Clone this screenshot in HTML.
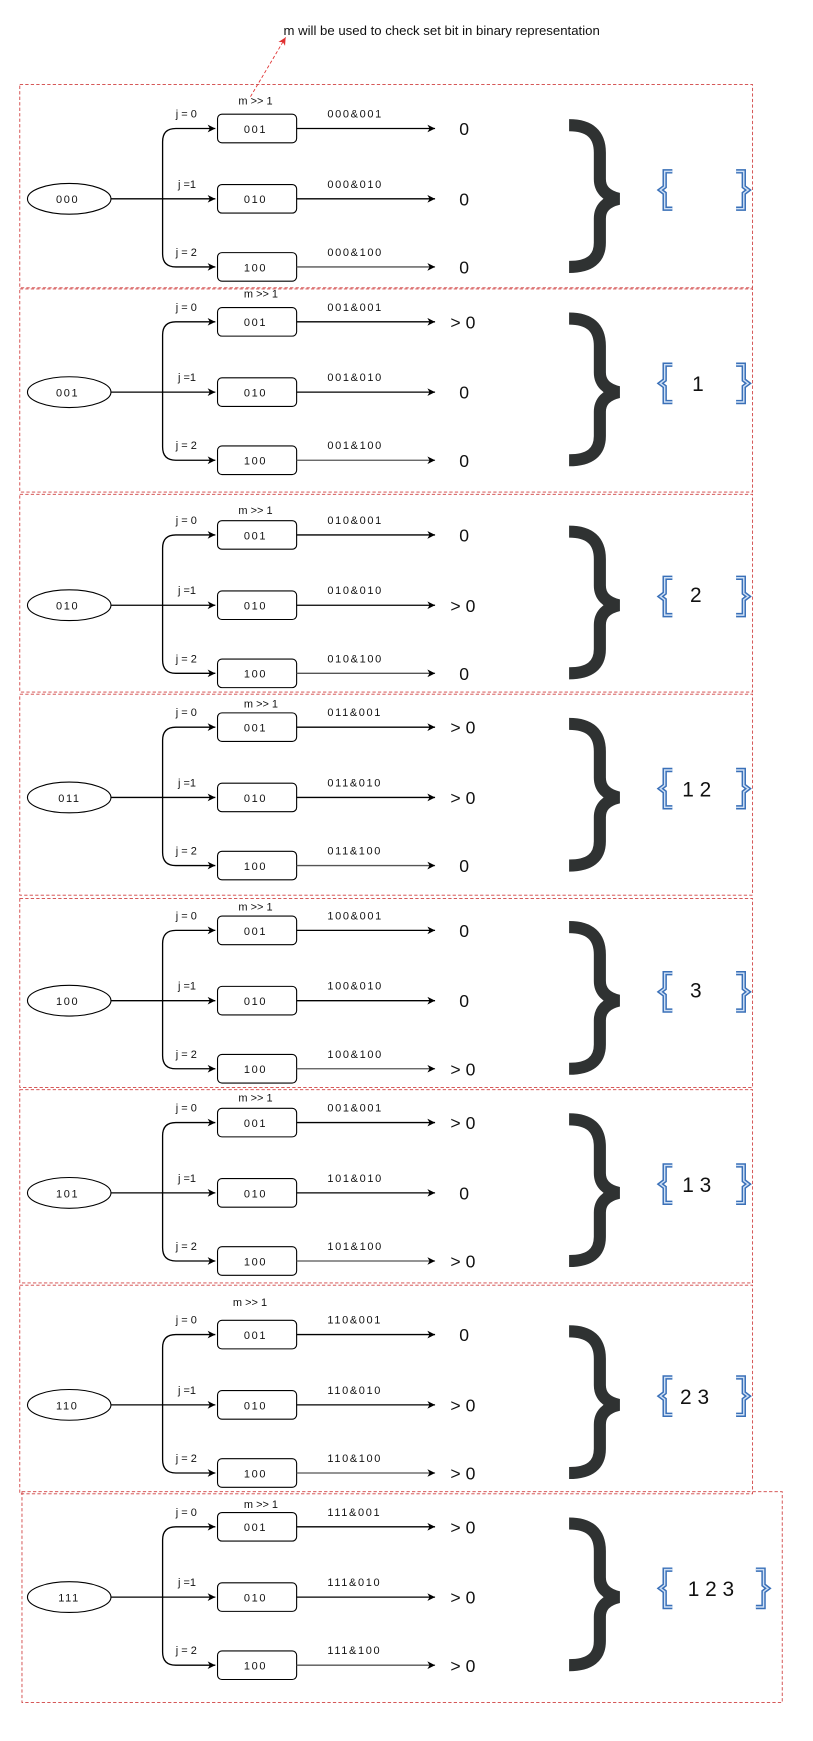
<!DOCTYPE html>
<html><head><meta charset="utf-8"><style>
html,body{margin:0;padding:0;background:#fff}
svg{display:block}
text{font-family:"Liberation Sans",sans-serif;fill:#111}
.s{font-size:10px;letter-spacing:1.5px}
.j{font-size:10px}
.r{font-size:16px}
.n{font-size:19px}
.ln{stroke:#000;stroke-width:1.2;fill:none}
.bx{stroke:#000;stroke-width:1;fill:#fff}
.pn{stroke:#d04040;stroke-width:0.8;stroke-dasharray:3 2;fill:none}
.br{stroke:#2f3232;stroke-width:11;fill:none}
.sb{stroke:#3a70b8;stroke-width:4;fill:none}
.sb2{stroke:#cfe0f5;stroke-width:1.3;fill:none}
</style></head><body>
<svg width="813" height="1741" viewBox="0 0 740 1585" preserveAspectRatio="none" xmlns="http://www.w3.org/2000/svg">
<defs>
<marker id="a" markerWidth="8" markerHeight="8" refX="7" refY="4" orient="auto" markerUnits="userSpaceOnUse"><path d="M0,0.5 L7,4 L0,7.5 L2,4 z" fill="#000"/></marker>
<marker id="ar" markerWidth="8" markerHeight="8" refX="7" refY="4" orient="auto" markerUnits="userSpaceOnUse"><path d="M0,0.5 L7,4 L0,7.5 L2,4 z" fill="#e03030"/></marker>
<g id="sk">
<line x1="101" y1="104" x2="148" y2="104" class="ln"/>
<path d="M148,104 L148,52 Q148,40 160,40 L196,40" class="ln" marker-end="url(#a)"/>
<path d="M148,104 L196,104" class="ln" marker-end="url(#a)"/>
<path d="M148,104 L148,154 Q148,166 160,166 L196,166" class="ln" marker-end="url(#a)"/>
<ellipse cx="63" cy="104" rx="38" ry="14" class="bx"/>
<rect x="198" y="27" width="72" height="26" rx="4" class="bx"/>
<rect x="198" y="91" width="72" height="26" rx="4" class="bx"/>
<rect x="198" y="153" width="72" height="26" rx="4" class="bx"/>
<line x1="270" y1="40" x2="396" y2="40" class="ln" marker-end="url(#a)"/>
<line x1="270" y1="104" x2="396" y2="104" class="ln" marker-end="url(#a)"/>
<line x1="270" y1="166" x2="396" y2="166" class="ln" marker-end="url(#a)" style="stroke:#555"/>
<path d="M518,37 Q546,37 546,62 L546,86 Q546,100 563,104 Q546,108 546,122 L546,144 Q546,166 518,166" class="br"/>
<path d="M612,79 L605,79 L605,93 L601,96 L605,99 L605,113 L612,113" class="sb"/>
<path d="M612,79 L605,79 L605,93 L601,96 L605,99 L605,113 L612,113" class="sb2"/>
</g>
<g id="rb"><path d="M0,79 L7,79 L7,93 L11,96 L7,99 L7,113 L0,113" class="sb"/><path d="M0,79 L7,79 L7,93 L11,96 L7,99 L7,113 L0,113" class="sb2"/></g>
<g id="lb"><text x="160" y="30" class="j">j = 0</text><text x="162" y="94" class="j">j =1</text><text x="160" y="156" class="j">j = 2</text>
<text x="222" y="44" class="s">001</text><text x="222" y="108" class="s">010</text><text x="222" y="170" class="s">100</text></g>
</defs>

<text x="258" y="32" style="font-size:12px">m will be used to check set bit in binary representation</text>
<line x1="228" y1="88" x2="260" y2="34" stroke="#e03030" stroke-width="0.8" stroke-dasharray="3 2" marker-end="url(#ar)"/>

<rect x="18" y="77" width="667" height="185" class="pn"/>
<rect x="18" y="263" width="667" height="185" class="pn"/>
<rect x="18" y="450" width="667" height="180" class="pn"/>
<rect x="18" y="632" width="667" height="183" class="pn"/>
<rect x="18" y="818" width="667" height="172" class="pn"/>
<rect x="18" y="992" width="667" height="176" class="pn"/>
<rect x="18" y="1170" width="667" height="190" class="pn"/>
<rect x="20" y="1358" width="692" height="192" class="pn"/>

<!-- P1 -->
<g transform="translate(0,77)"><use href="#sk"/><use href="#lb"/><use href="#rb" x="670"/>
<text x="217" y="18" class="j">m &gt;&gt; 1</text><text x="51" y="108" class="s">000</text>
<text x="298" y="30" class="s">000&amp;001</text><text x="298" y="94" class="s">000&amp;010</text><text x="298" y="156" class="s">000&amp;100</text>
<text x="418" y="46" class="r">0</text><text x="418" y="110" class="r">0</text><text x="418" y="172" class="r">0</text></g>
<!-- P2 -->
<g transform="translate(0,253)"><use href="#sk"/><use href="#lb"/><use href="#rb" x="670"/>
<text x="222" y="18" class="j">m &gt;&gt; 1</text><text x="51" y="108" class="s">001</text>
<text x="298" y="30" class="s">001&amp;001</text><text x="298" y="94" class="s">001&amp;010</text><text x="298" y="156" class="s">001&amp;100</text>
<text x="410" y="46" class="r">&gt; 0</text><text x="418" y="110" class="r">0</text><text x="418" y="172" class="r">0</text>
<text x="630" y="103" class="n">1</text></g>
<!-- P3 -->
<g transform="translate(0,447)"><use href="#sk"/><use href="#lb"/><use href="#rb" x="670"/>
<text x="217" y="21" class="j">m &gt;&gt; 1</text><text x="51" y="108" class="s">010</text>
<text x="298" y="30" class="s">010&amp;001</text><text x="298" y="94" class="s">010&amp;010</text><text x="298" y="156" class="s">010&amp;100</text>
<text x="418" y="46" class="r">0</text><text x="410" y="110" class="r">&gt; 0</text><text x="418" y="172" class="r">0</text>
<text x="628" y="101" class="n">2</text></g>
<!-- P4 -->
<g transform="translate(0,622)"><use href="#sk"/><use href="#lb"/><use href="#rb" x="670"/>
<text x="222" y="22" class="j">m &gt;&gt; 1</text><text x="53" y="108" class="s">011</text>
<text x="298" y="30" class="s">011&amp;001</text><text x="298" y="94" class="s">011&amp;010</text><text x="298" y="156" class="s">011&amp;100</text>
<text x="410" y="46" class="r">&gt; 0</text><text x="410" y="110" class="r">&gt; 0</text><text x="418" y="172" class="r">0</text>
<text x="621" y="103" class="n">1 2</text></g>
<!-- P5 -->
<g transform="translate(0,807)"><use href="#sk"/><use href="#lb"/><use href="#rb" x="670"/>
<text x="217" y="22" class="j">m &gt;&gt; 1</text><text x="51" y="108" class="s">100</text>
<text x="298" y="30" class="s">100&amp;001</text><text x="298" y="94" class="s">100&amp;010</text><text x="298" y="156" class="s">100&amp;100</text>
<text x="418" y="46" class="r">0</text><text x="418" y="110" class="r">0</text><text x="410" y="172" class="r">&gt; 0</text>
<text x="628" y="101" class="n">3</text></g>
<!-- P6 -->
<g transform="translate(0,982)"><use href="#sk"/><use href="#lb"/><use href="#rb" x="670"/>
<text x="217" y="21" class="j">m &gt;&gt; 1</text><text x="51" y="108" class="s">101</text>
<text x="298" y="30" class="s">001&amp;001</text><text x="298" y="94" class="s">101&amp;010</text><text x="298" y="156" class="s">101&amp;100</text>
<text x="410" y="46" class="r">&gt; 0</text><text x="418" y="110" class="r">0</text><text x="410" y="172" class="r">&gt; 0</text>
<text x="621" y="103" class="n">1 3</text></g>
<!-- P7 -->
<g transform="translate(0,1175)"><use href="#sk"/><use href="#lb"/><use href="#rb" x="670"/>
<text x="212" y="14" class="j">m &gt;&gt; 1</text><text x="51" y="108" class="s">110</text>
<text x="298" y="30" class="s">110&amp;001</text><text x="298" y="94" class="s">110&amp;010</text><text x="298" y="156" class="s">110&amp;100</text>
<text x="418" y="46" class="r">0</text><text x="410" y="110" class="r">&gt; 0</text><text x="410" y="172" class="r">&gt; 0</text>
<text x="619" y="103" class="n">2 3</text></g>
<!-- P8 -->
<g transform="translate(0,1350)"><use href="#sk"/><use href="#lb"/><use href="#rb" x="688"/>
<text x="222" y="23" class="j">m &gt;&gt; 1</text><text x="53" y="108" class="s">111</text>
<text x="298" y="30" class="s">111&amp;001</text><text x="298" y="94" class="s">111&amp;010</text><text x="298" y="156" class="s">111&amp;100</text>
<text x="410" y="46" class="r">&gt; 0</text><text x="410" y="110" class="r">&gt; 0</text><text x="410" y="172" class="r">&gt; 0</text>
<text x="626" y="103" class="n">1 2 3</text></g>
</svg>
</body></html>
